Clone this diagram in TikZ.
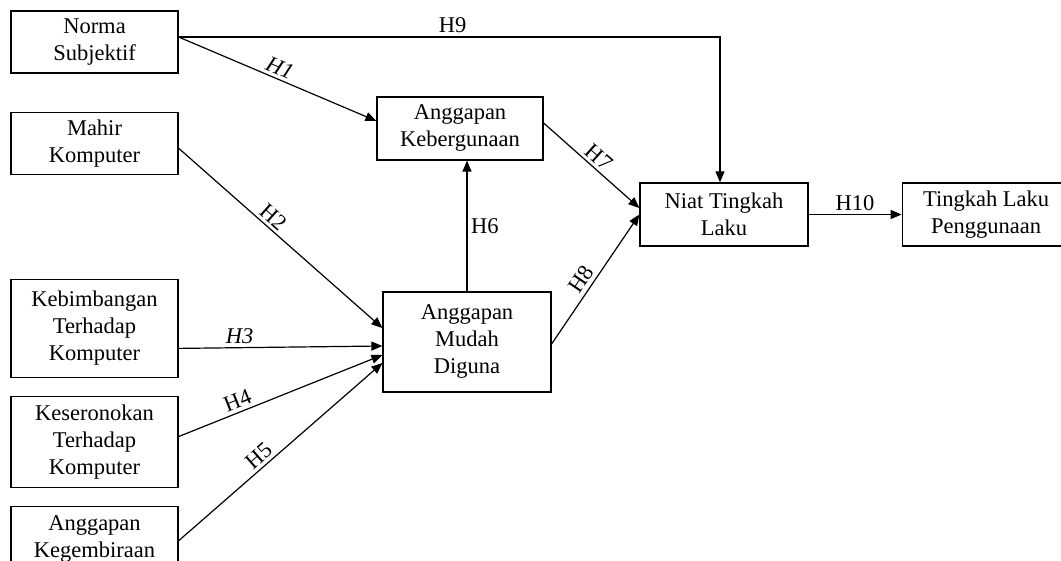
\documentclass[tikz,border=0pt]{standalone}
\usepackage{fontspec}
\setmainfont{Liberation Serif}
\usetikzlibrary{arrows.meta,positioning}

\begin{document}
\begin{tikzpicture}[x=1pt,y=1pt,>={Triangle[length=11pt,width=9pt]},line width=1.2pt,
    node distance=38pt,align=center,font=\fontsize{22.5}{27}\selectfont,
    var/.style={draw,minimum width=167pt,minimum height=62pt,inner sep=2pt},
    lbl/.style={inner sep=3.5pt}]
    \useasboundingbox (0,0) rectangle (1061,-561);
			\node[var] at (94.5,-42) (norma) {Norma\\Subjektif};
			\node[var] [below=of norma] (mahir) {Mahir\\Komputer};
			\node[var,minimum height=98pt] [below=104pt of mahir] (bimbang) {Kebimbangan\\Terhadap\\Komputer};
			\node[var,minimum height=91pt] [below=18pt of bimbang] (seronok) {Keseronokan\\Terhadap\\Komputer};
			\node[var,minimum height=64pt] [below=18pt of seronok] (gembira) {Anggapan\\Kegembiraan};
			\node[var,minimum width=166pt,minimum height=63pt] at (460,-128.5) (guna) {Anggapan\\Kebergunaan};
			\node[var,minimum width=168pt,minimum height=100pt] at (467,-342) (mudah) {Anggapan\\Mudah\\Diguna};
			\node[var,minimum width=168pt,minimum height=63pt] at (724,-214.5) (niat) {Niat Tingkah\\Laku};
			\node[var,minimum width=168pt,minimum height=63pt] [right=93pt of niat] (laku) {Tingkah Laku\\Penggunaan};
			\draw[->] ([yshift=5pt]norma.east) -| node[lbl,above,pos=0.253] {H9} ([xshift=-4pt]niat.north);
			\draw[->] ([yshift=5pt]norma.east) -- node[lbl,sloped,above,pos=0.49] {\textit{H1}} ([yshift=7.5pt]guna.west);
			\draw[->] ([yshift=-5pt]mahir.east) -- node[lbl,sloped,above,pos=0.43] {H2} ([yshift=14pt]mudah.west);
			\draw[->] ([yshift=-20pt]bimbang.east) -- node[lbl,above,pos=0.3] {\textit{H3}} ([yshift=-4pt]mudah.west);
			\draw[->] ([yshift=5.5pt]seronok.east) -- node[lbl,sloped,above,pos=0.31] {H4} ([yshift=-13pt]mudah.west);
			\draw[->] ([yshift=-2pt]gembira.east) -- node[lbl,sloped,above,pos=0.43] {H5} ([yshift=-21pt]mudah.west);
			\draw[->] (mudah.north) -- node[lbl,right,pos=0.5] {H6} (mudah.north |- guna.south);
			\draw[->] ([yshift=5.5pt]guna.east) -- node[lbl,sloped,above,pos=0.5] {H7} ([yshift=6.5pt]niat.west);
			\draw[->] ([yshift=-2pt]mudah.east) -- node[lbl,sloped,above,pos=0.45] {H8} (niat.west);
			\draw[->] (niat.east) -- node[lbl,above] {H10} (laku.west);
		\end{tikzpicture}
\end{document}
